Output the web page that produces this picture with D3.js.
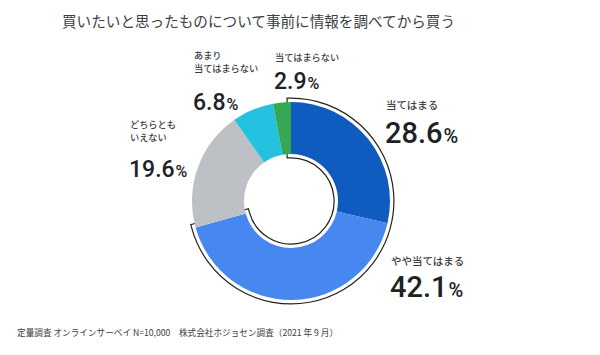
<!DOCTYPE html>
<html><head><meta charset="utf-8">
<script src="https://cdn.jsdelivr.net/npm/d3@7"></script>
<style>
html,body{margin:0;padding:0;background:#fff;}
svg{display:block;}
</style></head>
<body>
<script>
// ---- data ----
const title = "買いたいと思ったものについて事前に情報を調べてから買う";
const categories = ["当てはまる","やや当てはまる","どちらともいえない","あまり当てはまらない","当てはまらない"];
const labelLines = [["当てはまる"],["やや当てはまる"],["どちらとも","いえない"],["あまり","当てはまらない"],["当てはまらない"]];
const values = [28.6, 42.1, 19.6, 6.8, 2.9];
const highlighted = [true, true, false, false, false];
const colors = ["#0F5BBF", "#4688F0", "#BDC1C6", "#24C1E0", "#34A853"];
const footnote = "定量調査 オンラインサーベイ N=10,000　株式会社ホジョセン調査（2021 年 9 月）";

// ---- layout ----
const W = 600, H = 355;
const cx = 291, cy = 201, R = 99, r = 47;
const labelPos = [
  {x: 386, y: 109, vy: 143},
  {x: 391, y: 265, vy: 297},
  {x: 130, y: 141, vy: 177},
  {x: 194, y: 71.5, vy: 110},
  {x: 275, y: 61, vy: 89}
];
const cjk = "'Noto Sans CJK JP', 'Noto Sans', sans-serif";
const num = "Roboto, 'Noto Sans', sans-serif";

const svg = d3.select("body").append("svg").attr("width", W).attr("height", H);

svg.append("text").attr("x", 62).attr("y", 27)
  .attr("font-family", cjk).attr("font-size", 14.6).attr("fill", "#3c4043")
  .text(title);

const g = svg.append("g").attr("transform", `translate(${cx},${cy})`);
const pie = d3.pie().sort(null).value(d => d)(values);
const arc = d3.arc().innerRadius(r).outerRadius(R);

// highlight outline around highlighted segments
const hi = pie.filter((d, i) => highlighted[i]);
const hiArc = {startAngle: d3.min(hi, d => d.startAngle), endAngle: d3.max(hi, d => d.endAngle)};
g.append("path").attr("d", arc(hiArc)).attr("fill", "none")
  .attr("stroke", "#222").attr("stroke-width", 9).attr("stroke-linejoin", "miter");
g.append("path").attr("d", arc(hiArc)).attr("fill", "#fff")
  .attr("stroke", "#fff").attr("stroke-width", 6.6).attr("stroke-linejoin", "miter");

g.selectAll("path.seg").data(pie).join("path").attr("class", "seg")
  .attr("d", arc).attr("fill", (d, i) => colors[i]);

// labels
categories.forEach((c, i) => {
  const p = labelPos[i];
  const big = highlighted[i];
  const lines = labelLines[i];
  const lh = 13;
  lines.forEach((ln, j) => {
    svg.append("text").attr("x", p.x).attr("y", p.y - (lines.length - 1 - j) * lh)
      .attr("font-family", cjk).attr("font-size", big ? 10.5 : 9.2)
      .attr("font-weight", 500).attr("fill", "#3c4043").text(ln);
  });
  const t = svg.append("text").attr("x", p.x - 1).attr("y", p.vy)
    .attr("font-family", num).attr("font-weight", 500)
    .attr("font-size", big ? 29 : 23).attr("fill", "#202124");
  t.append("tspan").text(d3.format(".1f")(values[i]));
  t.append("tspan").attr("font-size", big ? 20 : 16).attr("dx", 1).text("%");
});

svg.append("text").attr("x", 17).attr("y", 335.5)
  .attr("font-family", cjk).attr("font-size", 8.65).attr("fill", "#3c4043")
  .text(footnote);
</script>
</body></html>
